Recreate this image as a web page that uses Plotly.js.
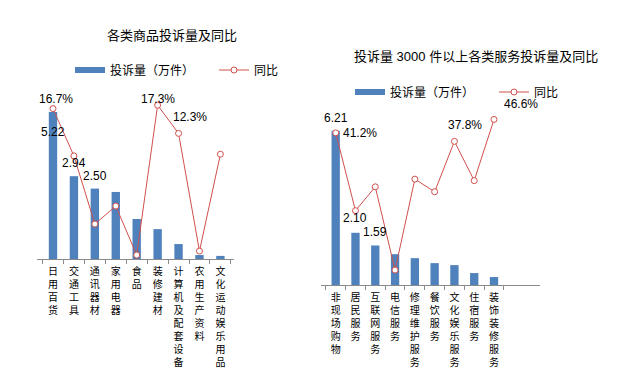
<!DOCTYPE html>
<html><head><meta charset="utf-8">
<script src="https://cdn.plot.ly/plotly-3.0.1.min.js"></script>
<style>html,body{margin:0;padding:0;background:#fff}#chart{width:625px;height:376px}</style>
</head><body><div id="chart"></div>
<script>
// ---- data ----
const leftCats = ['日用百货','交通工具','通讯器材','家用电器','食品','装修建材','计算机及配套设备','农用生产资料','文化运动娱乐用品'];
const leftVol = [5.22, 2.94, 2.50, 2.38, 1.42, 1.06, 0.53, 0.14, 0.11];
const leftYoY = [16.7, 8.3, -3.8, -0.6, -9.3, 17.3, 12.3, -8.6, 8.6];
const rightCats = ['非现场购物','居民服务','互联网服务','电信服务','修理维护服务','餐饮服务','文化娱乐服务','住宿服务','装饰装修服务'];
const rightVol = [6.21, 2.10, 1.59, 1.24, 1.08, 0.88, 0.80, 0.48, 0.32];
const rightYoY = [41.2, 9.9, 19.5, -14.0, 22.6, 17.5, 37.8, 22.0, 46.6];
const leftTitle = '各类商品投诉量及同比';
const rightTitle = '投诉量 3000 件以上各类服务投诉量及同比';
const volName = '投诉量（万件）';
const yoyName = '同比';
// which points carry data labels
const leftVolLabelIdx = [0, 1, 2];
const leftYoYLabelIdx = [0, 5, 6];
const rightVolLabelIdx = [0, 1, 2];
const rightYoYLabelIdx = [0, 6, 8];

// ---- style ----
const BLUE = '#4F81BD', RED = '#D0504D', AXIS = '#8a8a8a';
const FONT = 'Liberation Sans, Arial, Noto Sans CJK SC, sans-serif';
const CJK = 'Liberation Sans, Noto Sans CJK SC, sans-serif';
const vert = s => s.split('').join('<br>');

// label offsets (pixels) per labelled index
const offs = {
  lv: {0: [0, -20], 1: [0, 13], 2: [0, 13]},
  ly: {0: [3, 10], 5: [0, 6], 6: [11, 16]},
  rv: {0: [0, 13], 1: [0, 15], 2: [0, 13]},
  ry: {0: [24, 0], 6: [11, 16], 8: [27, 15]}
};

function lineTrace(cats, vals, xa, ya, legend) {
  return {type: 'scatter', mode: 'lines+markers', x: cats, y: vals, xaxis: xa, yaxis: ya,
    name: yoyName, legend: legend,
    line: {color: RED, width: 1},
    marker: {symbol: 'circle', size: 6, color: '#fff', line: {color: RED, width: 1}}};
}
function barTrace(cats, vals, xa, ya, width) {
  return {type: 'bar', x: cats, y: vals, xaxis: xa, yaxis: ya, showlegend: false,
    marker: {color: BLUE}, width: width};
}
function legendProxy(legend) {
  return {type: 'scatter', mode: 'lines', x: [null], y: [null], name: volName, legend: legend,
    xaxis: legend === 'legend' ? 'x' : 'x2', yaxis: legend === 'legend' ? 'y' : 'y3',
    line: {color: BLUE, width: 6}};
}

const data = [
  barTrace(leftCats, leftVol, 'x', 'y', 0.4),
  legendProxy('legend'),
  lineTrace(leftCats, leftYoY, 'x', 'y2', 'legend'),
  barTrace(rightCats, rightVol, 'x2', 'y3', 0.42),
  legendProxy('legend2'),
  lineTrace(rightCats, rightYoY, 'x2', 'y4', 'legend2')
];

const annotations = [];
function addLabels(idxs, cats, vals, xr, yr, fmt, off) {
  idxs.forEach(i => {
    const o = off[i] || [0, 12];
    annotations.push({x: cats[i], y: vals[i], xref: xr, yref: yr, text: fmt(vals[i]),
      showarrow: false, xshift: o[0], yshift: o[1], font: {family: FONT, size: 12, color: '#000'}});
  });
}
addLabels(leftVolLabelIdx, leftCats, leftVol, 'x', 'y', v => v.toFixed(2), offs.lv);
addLabels(leftYoYLabelIdx, leftCats, leftYoY, 'x', 'y2', v => v.toFixed(1) + '%', offs.ly);
addLabels(rightVolLabelIdx, rightCats, rightVol, 'x2', 'y3', v => v.toFixed(2), offs.rv);
addLabels(rightYoYLabelIdx, rightCats, rightYoY, 'x2', 'y4', v => v.toFixed(1) + '%', offs.ry);
annotations.push({text: leftTitle, xref: 'paper', yref: 'paper', x: 172/625, y: 1 - 36/376,
  xanchor: 'center', yanchor: 'middle',
  showarrow: false, font: {family: CJK, size: 13, color: '#000'}});
annotations.push({text: rightTitle, xref: 'paper', yref: 'paper', x: 476/625, y: 1 - 56/376,
  xanchor: 'center', yanchor: 'middle',
  showarrow: false, font: {family: CJK, size: 13, color: '#000'}});

function xAxis(cats, domain, anchor) {
  return {domain: domain, anchor: anchor, type: 'category', tickmode: 'array', tickvals: cats,
    ticktext: cats.map(vert), showline: true, linecolor: AXIS, linewidth: 1,
    ticks: 'outside', tickson: 'boundaries', ticklen: 4, tickcolor: AXIS, tickangle: 0,
    showgrid: false, zeroline: false, fixedrange: true, automargin: false, ticklabelstandoff: 3,
    tickfont: {family: CJK, size: 10, color: '#000'}};
}
const legendBase = {orientation: 'h', xanchor: 'left', yanchor: 'middle',
  font: {family: CJK, size: 12, color: '#000'}, bgcolor: 'rgba(0,0,0,0)', itemwidth: 30,
  entrywidth: 99, entrywidthmode: 'pixels'};
const layout = {
  width: 625, height: 376, margin: {l: 0, r: 0, t: 0, b: 0, autoexpand: false},
  paper_bgcolor: '#fff', plot_bgcolor: 'rgba(0,0,0,0)', font: {family: FONT},
  xaxis: xAxis(leftCats, [37/625, 234/625], 'y'),
  yaxis: {domain: [1 - 259/376, 1 - 90/376], range: [0, 6], visible: false},
  yaxis2: {overlaying: 'y', range: [-10, 20], visible: false},
  xaxis2: xAxis(rightCats, [321/625, 540/625], 'y3'),
  yaxis3: {domain: [1 - 285/376, 1 - 111/376], range: [0, 7], visible: false},
  yaxis4: {overlaying: 'y3', range: [-20, 50], visible: false},
  legend: Object.assign({}, legendBase, {x: 70/625, y: 1 - 70/376}),
  legend2: Object.assign({}, legendBase, {x: 350/625, y: 1 - 92/376}),
  annotations: annotations,
  showlegend: true
};
Plotly.newPlot('chart', data, layout, {staticPlot: true, displayModeBar: false});
</script></body></html>
